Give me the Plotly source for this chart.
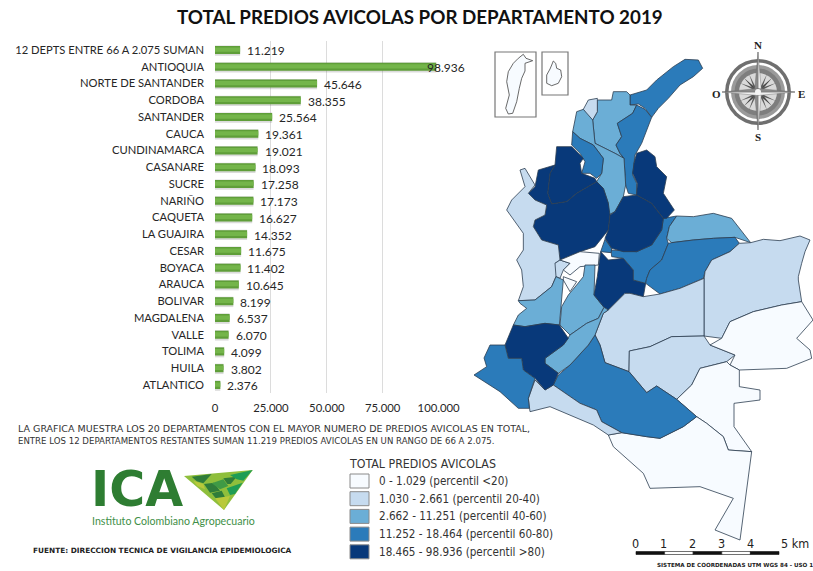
import plotly.graph_objects as go

W, H = 813, 571

# ---------- bar chart data ----------
categories = ["12 DEPTS ENTRE 66 A 2.075 SUMAN", "ANTIOQUIA", "NORTE DE SANTANDER", "CORDOBA", "SANTANDER",
              "CAUCA", "CUNDINAMARCA", "CASANARE", "SUCRE", "NARIÑO", "CAQUETA", "LA GUAJIRA", "CESAR",
              "BOYACA", "ARAUCA", "BOLIVAR", "MAGDALENA", "VALLE", "TOLIMA", "HUILA", "ATLANTICO"]
values = [11219, 98936, 45646, 38355, 25564, 19361, 19021, 18093, 17258, 17173, 16627, 14352, 11675,
          11402, 10645, 8199, 6537, 6070, 4099, 3802, 2376]
value_labels = ["11.219", "98.936", "45.646", "38.355", "25.564", "19.361", "19.021", "18.093", "17.258",
                "17.173", "16.627", "14.352", "11.675", "11.402", "10.645", "8.199", "6.537", "6.070",
                "4.099", "3.802", "2.376"]
tick_vals = [0, 25000, 50000, 75000, 100000]
tick_text = ["0", "25.000", "50.000", "75.000", "100.000"]

# ---------- map classes ----------
class_labels = ["0 - 1.029 (percentil <20)", "1.030 - 2.661 (percentil 20-40)", "2.662 - 11.251 (percentil 40-60)",
                "11.252 - 18.464 (percentil 60-80)", "18.465 - 98.936 (percentil >80)"]
class_colors = ["#f7fbff", "#c6dbef", "#6baed6", "#2b7bba", "#08397a"]

def S(pts):
    return [(x, y + 720) for x, y in pts]

# outlines, grid of the enlarged crop (3 units per pixel)
departments = [
    ("LA GUAJIRA", 3, [(450,195),(500,180),(530,150),(580,110),(615,88),(655,90),(668,115),(640,140),(600,165),(565,205),(535,235),(515,262),(495,235),(475,222),(450,225)]),
    ("MAGDALENA", 2, [(352,210),(395,210),(400,185),(440,185),(450,195),(450,225),(470,225),(458,250),(412,280),(425,320),(408,345),(420,370),(432,385),(405,370),(345,340),(342,310),(338,270),(352,245)]),
    ("CESAR", 3, [(470,225),(495,238),(515,262),(505,290),(485,340),(465,375),(460,410),(458,435),(470,460),(470,495),(445,490),(437,465),(432,385),(420,370),(408,345),(425,320),(412,280),(458,250)]),
    ("ATLANTICO", 1, [(310,238),(325,210),(352,205),(352,245),(338,270),(320,255)]),
    ("BOLIVAR", 2, [(290,245),(310,238),(338,270),(342,310),(345,340),(405,370),(432,385),(437,465),(430,500),(405,545),(385,555),(385,520),(370,475),(350,455),(365,430),(370,385),(340,345),(300,325),(278,305),(285,270)]),
    ("SUCRE", 3, [(278,305),(300,325),(340,345),(370,385),(365,430),(350,445),(330,430),(305,430),(315,395),(300,370),(275,345)]),
    ("CORDOBA", 4, [(230,350),(275,350),(310,385),(300,400),(305,430),(345,445),(350,455),(290,490),(260,515),(215,522),(203,490),(210,430),(225,405)]),
    ("ANTIOQUIA", 4, [(225,405),(210,430),(203,490),(215,522),(260,515),(290,490),(350,455),(370,475),(385,520),(390,555),(385,600),(345,650),(300,665),(240,690),(235,645),(185,630),(160,590),(165,570),(195,555),(200,525),(165,510),(145,490),(165,470),(175,420)]),
    ("CHOCO", 1, [(120,420),(135,415),(165,465),(145,490),(165,510),(200,525),(195,555),(165,570),(160,590),(185,630),(235,645),(240,690),(225,700),(245,720)] + S([(228,20),(215,50),(165,90),(115,92),(130,50),(125,0)]) + [(110,690),(130,660),(130,610),(100,570),(80,540),(95,510),(115,490),(135,470)]),
    ("RISARALDA", 1, [(225,700),(240,690),(270,700),(250,720),(240,745),(228,740)]),
    ("CALDAS", 0, [(240,690),(300,665),(358,670),(355,705),(300,710),(270,735),(250,720),(270,700)]),
    ("QUINDIO", 0, S([(250,20),(290,35),(270,65),(250,30)])),
    ("VALLE", 2, S([(115,92),(165,90),(215,50),(228,20),(250,30),(245,80),(238,165),(195,160),(135,170),(100,165),(115,135),(140,115),(120,100)])),
    ("TOLIMA", 2, S([(315,-15),(345,-15),(342,75),(372,112),(355,145),(320,160),(270,195),(240,165),(245,110),(265,75),(290,45),(310,20)])),
    ("CUNDINAMARCA", 4, [(362,665),(385,690),(430,685),(460,720)] + S([(460,30),(497,40),(490,80),(450,70),(435,70),(415,90),(385,120),(372,112),(342,75),(352,20)])),
    ("BOYACA", 3, [(590,558),(568,590),(560,625),(565,640),(545,690),(510,720),(500,745),(497,760),(460,750),(460,720),(430,685),(395,680),(393,660),(470,665),(515,645),(545,600),(550,565)]),
    ("BOYACA OCC", 3, [(375,628),(395,655),(393,668),(362,665)]),
    ("SANTANDER", 4, [(430,500),(470,495),(515,520),(550,565),(545,600),(515,645),(470,665),(430,665),(395,655),(375,625),(385,600),(390,555),(405,545)]),
    ("NORTE DE SANTANDER", 4, [(470,370),(500,360),(525,380),(530,410),(560,440),(550,490),(583,540),(560,565),(550,565),(515,520),(470,495),(472,460),(458,430),(462,400)]),
    ("ARAUCA", 2, [(590,558),(640,560),(700,550),(755,565),(812,638),(765,622),(700,625),(640,630),(575,638),(560,625),(568,590)]),
    ("CASANARE", 3, [(575,638),(640,630),(700,625),(765,622),(778,640),(750,665),(695,690),(675,725)] + S([(670,25),(600,55),(540,72),(497,40)]) + [(500,745),(510,720),(545,690),(565,640)]),
    ("VICHADA", 1, [(812,638),(850,628),(900,632),(960,618),(990,630),(975,665),(965,700),(955,740)] + S([(955,30),(965,95),(905,105),(820,125),(750,155),(725,205),(672,198),(672,30)]) + [(675,725),(695,690),(750,665),(778,640)]),
    ("META", 1, S([(540,72),(600,55),(672,25),(672,198),(575,200),(510,230),(448,243),(447,305),(375,278),(360,225),(345,195),(370,130),(385,120),(415,90),(435,70),(450,70),(490,80)])),
    ("GUAVIARE", 1, S([(448,243),(510,230),(575,200),(672,198),(690,225),(765,255),(740,275),(660,295),(635,345),(590,388),(530,348),(500,368),(447,305)])),
    ("GUAINIA", 0, S([(690,225),(725,205),(750,155),(820,125),(905,105),(965,95),(999,150),(950,205),(990,240),(995,265),(920,295),(778,300),(750,285),(765,255)])),
    ("VAUPES", 0, S([(778,300),(778,350),(840,360),(840,390),(762,400),(762,470),(815,545),(745,540),(730,500),(680,460),(650,440),(590,388),(635,345),(660,295),(740,275),(750,285)])),
    ("AMAZONAS", 0, S([(650,440),(680,460),(730,500),(745,540),(815,545),(780,810),(705,780),(760,685),(660,650),(510,655),(490,610),(400,530),(385,495),(425,488),(500,500),(540,505),(610,470)])),
    ("CAQUETA", 3, S([(345,195),(360,225),(375,278),(447,305),(500,368),(530,348),(590,388),(650,440),(610,470),(540,505),(500,500),(425,488),(365,455),(350,420),(300,400),(220,345),(235,315),(270,285),(325,225)])),
    ("PUTUMAYO", 1, S([(165,330),(195,360),(220,345),(300,400),(350,420),(365,455),(425,488),(385,495),(340,465),(280,440),(210,410),(150,425),(145,385)])),
    ("HUILA", 2, S([(270,195),(320,160),(355,145),(372,112),(385,120),(370,130),(345,195),(325,225),(270,285),(235,310),(195,280),(195,265),(250,225),(265,205)])),
    ("CAUCA", 4, S([(100,165),(135,170),(195,160),(238,165),(265,205),(250,225),(195,265),(195,280),(235,310),(220,345),(195,360),(165,325),(130,300),(125,265),(85,265),(75,225)])),
    ("NARIÑO", 3, S([(75,225),(85,265),(125,265),(130,300),(165,325),(145,385),(148,415),(115,415),(60,365),(-18,315),(20,290),(12,264),(30,225)])),
]

san_andres = [(100,28),(108,40),(128,47),(105,55),(105,78),(95,100),(88,130),(80,170),(68,205),(55,207),(47,190),(58,150),(50,110),(55,80),(70,55),(85,40)]
providencia = [(190,48),(197,55),(200,70),(212,75),(215,95),(205,115),(185,122),(170,115),(170,90),(180,72),(185,60)]

logo_cells = [
    ("#8fbf3c", [(312,48),(518,30),(432,150)]),
    ("#2f7d3a", [(335,50),(395,42),(370,70),(350,64)]),
    ("#b9c93a", [(340,62),(370,72),(375,88),(352,78)]),
    ("#2f7d3a", [(372,72),(402,68),(420,92),(390,98)]),
    ("#3f9a45", [(395,70),(430,58),(445,78),(420,88)]),
    ("#2f7d3a", [(430,55),(470,50),(452,72),(442,72)]),
    ("#1f9d55", [(450,45),(518,30),(490,62),(470,58)]),
    ("#2f7d3a", [(395,100),(425,92),(438,118),(418,128)]),
    ("#b9c93a", [(405,115),(450,108),(432,150)]),
    ("#1f9d55", [(440,85),(488,68),(465,102),(450,105)]),
    ("#8fbf3c", [(400,45),(440,40),(425,55),(405,60)]),
]

fig = go.Figure()

# bars: soft shadow, body and lighter core
bar_y = categories
fig.add_bar(y=bar_y, x=values, orientation="h", width=0.62, offset=-0.27, xaxis="x", yaxis="y",
            marker=dict(color="rgba(90,90,90,0.22)", line_width=0), hoverinfo="skip", showlegend=False)
fig.add_bar(y=bar_y, x=values, orientation="h", width=0.48, offset=-0.24, xaxis="x", yaxis="y",
            marker=dict(color="#5f9e39", line_width=0), showlegend=False)
fig.add_bar(y=bar_y, x=values, orientation="h", width=0.26, offset=-0.15, xaxis="x", yaxis="y",
            marker=dict(color="#74b54a", line_width=0), hoverinfo="skip", showlegend=False)

# map
for name, cls, pts in departments:
    xs = [480 + p[0] / 3 for p in pts] + [480 + pts[0][0] / 3]
    ys = [30 + p[1] / 3 for p in pts] + [30 + pts[0][1] / 3]
    fig.add_scatter(x=xs, y=ys, xaxis="x2", yaxis="y2", mode="lines", fill="toself", name=name,
                    fillcolor=class_colors[cls], line=dict(color="#2c3e50", width=0.8),
                    hoveron="fills", showlegend=False)

shapes = []
annotations = []

def text(x, y, s, size, color="#222", font="Lato", xanchor="left", **kw):
    annotations.append(dict(x=x, y=y, xref="x2", yref="y2", text=s, showarrow=False, xanchor=xanchor,
                            yanchor="middle", font=dict(size=size, color=color, family=font), **kw))

def rect(x0, y0, x1, y1, fill="rgba(0,0,0,0)", line="#555", width=1):
    shapes.append(dict(type="rect", x0=x0, y0=y0, x1=x1, y1=y1, xref="x2", yref="y2",
                       fillcolor=fill, line=dict(color=line, width=width)))

def circle(cx, cy, r, fill, line="rgba(0,0,0,0)", width=0):
    shapes.append(dict(type="circle", x0=cx-r, y0=cy-r, x1=cx+r, y1=cy+r, xref="x2", yref="y2",
                       fillcolor=fill, line=dict(color=line, width=width)))

def poly(pts, fill, line="rgba(0,0,0,0)", width=0):
    d = "M" + " L".join(f"{x:.1f},{y:.1f}" for x, y in pts) + " Z"
    shapes.append(dict(type="path", path=d, xref="x2", yref="y2", fillcolor=fill, line=dict(color=line, width=width)))

# title
text(420, 16, "<b>TOTAL PREDIOS AVICOLAS POR DEPARTAMENTO 2019</b>", 18.8, color="#111", xanchor="center")

# value labels
for i, (cat, v, lab) in enumerate(zip(categories, values, value_labels)):
    annotations.append(dict(x=v, y=cat, xref="x", yref="y", text=lab, showarrow=False, xanchor="left",
                            xshift=-11 if v > 90000 else 5, yshift=-1,
                            font=dict(size=12, color="#262626", family="Lato")))

# footnote
text(16, 428, "LA GRAFICA MUESTRA LOS 20 DEPARTAMENTOS CON EL MAYOR NUMERO DE PREDIOS AVICOLAS EN TOTAL,", 9.5, font="DejaVu Sans", color="#333")
text(16, 441, "ENTRE LOS 12 DEPARTAMENTOS RESTANTES SUMAN 11.219 PREDIOS AVICOLAS EN UN RANGO DE 66 A 2.075.", 8.6, font="DejaVu Sans", color="#333")

# legend
text(347, 464, "TOTAL PREDIOS AVICOLAS", 12.3, font="DejaVu Sans Condensed", color="#333")
for i, (lab, col) in enumerate(zip(class_labels, class_colors)):
    yc = 481 + i * 17.7
    rect(350, yc - 7, 369, yc + 7, fill=col, line="#8a8a8a", width=1)
    text(377, yc, lab, 11.6, font="DejaVu Sans Condensed", color="#333")

# logo
text(89, 489, "<b>ICA</b>", 49, color="#2e7d32", font="DejaVu Sans")
text(90, 521, "Instituto Colombiano Agropecuario", 10.6, color="#3f8f47", font="Lato")
for col, pts in logo_cells:
    poly([(80 + x / 3, 460 + y / 3) for x, y in pts], col)
text(31, 550, "<b>FUENTE: DIRECCION TECNICA DE VIGILANCIA EPIDEMIOLOGICA</b>", 7.35, font="DejaVu Sans", color="#222")

# insets
rect(495, 52, 536, 117, line="#777", width=1.2)
rect(542, 52, 568, 95, line="#777", width=1.2)
poly([(490 + x / 3, 45 + y / 3) for x, y in san_andres], "#f7fbff", "#444", 0.8)
poly([(490 + x / 3, 45 + y / 3) for x, y in providencia], "#f7fbff", "#444", 0.8)

# compass
cx, cy = 758, 92
circle(cx, cy, 33, "#6f6f6f")
circle(cx, cy, 29.5, "#ffffff")
circle(cx, cy, 27, "#9a9a9a")
circle(cx, cy, 23.5, "#7e7e7e")
circle(cx, cy, 19, "#d9d9d9")
for dx, dy in [(1, 1), (1, -1), (-1, 1), (-1, -1)]:
    poly([(cx, cy), (cx + 2.5 * dx, cy + 0.5 * dy), (cx + 14 * dx, cy + 14 * dy), (cx + 0.5 * dx, cy + 2.5 * dy)], "#444")
for a, b in [(10, 5), (5, 10)]:
    for dx, dy in [(1, 1), (1, -1), (-1, 1), (-1, -1)]:
        poly([(cx, cy), (cx + 1.7*b*dx/5, cy + 1.7*a*dy/5), (cx + 1.8*a*dx, cy + 1.8*b*dy)], "#5a5a5a")
for tx, ty, nx, ny in [(0, -40, 1, 0), (0, 38, 1, 0), (-36, 0, 0, 1), (37, 0, 0, 1)]:
    poly([(cx + 3.5 * nx, cy + 3.5 * ny), (cx + tx, cy + ty), (cx, cy)], "#efefef", "#666", 0.4)
    poly([(cx - 3.5 * nx, cy - 3.5 * ny), (cx + tx, cy + ty), (cx, cy)], "#8a8a8a", "#666", 0.4)
circle(cx, cy, 3, "#f4f4f4")
text(758, 45, "<b>N</b>", 11, font="Liberation Serif", color="#222", xanchor="center")
text(758, 137, "<b>S</b>", 11, font="Liberation Serif", color="#222", xanchor="center")
text(716, 94, "<b>O</b>", 11, font="Liberation Serif", color="#222", xanchor="center")
text(801, 94, "<b>E</b>", 11, font="Liberation Serif", color="#222", xanchor="center")

# scale bar
scale_labels = ["0", "1", "2", "3", "4", "5 km"]
for i, lab in enumerate(scale_labels):
    text(635 + i * 28.8, 543, lab, 12.5, font="DejaVu Sans Condensed", color="#222", xanchor="center" if i < 5 else "left")
for i in range(5):
    rect(636 + i * 28.6, 551.5, 636 + (i + 1) * 28.6, 554.5, fill="#111" if i % 2 == 0 else "#fff", line="#111", width=0.6)
text(655, 565, "<b>SISTEMA DE COORDENADAS UTM WGS 84 - USO 18 N</b>", 5.6, font="DejaVu Sans", color="#222")

fig.update_layout(
    width=W, height=H, margin=dict(l=0, r=0, t=0, b=0), paper_bgcolor="white", plot_bgcolor="rgba(0,0,0,0)",
    barmode="overlay", showlegend=False, shapes=shapes, annotations=annotations,
    xaxis=dict(domain=[215 / W, 438.6 / W], range=[0, 100000], tickvals=tick_vals, ticktext=tick_text,
               showgrid=True, gridcolor="#dcdcdc", gridwidth=1, zeroline=False, showline=False, ticks="",
               ticklabelstandoff=7, automargin=False, tickfont=dict(size=11.3, family="Lato", color="#262626")),
    yaxis=dict(domain=[1 - 393 / H, 1 - 41 / H], type="category", categoryorder="array", categoryarray=categories,
               range=[20.48, -0.537], showgrid=False, zeroline=False, showline=False, ticks="",
               ticklabelstandoff=10, automargin=False, tickfont=dict(size=11.2, family="Lato", color="#262626")),
    xaxis2=dict(domain=[0, 1], range=[0, W], visible=False, anchor="y2", fixedrange=True),
    yaxis2=dict(domain=[0, 1], range=[H, 0], visible=False, anchor="x2", fixedrange=True),
)
fig.write_html("out.html", config=dict(displayModeBar=False),
               post_script="document.body.style.margin='0';document.documentElement.style.overflow='hidden';")
